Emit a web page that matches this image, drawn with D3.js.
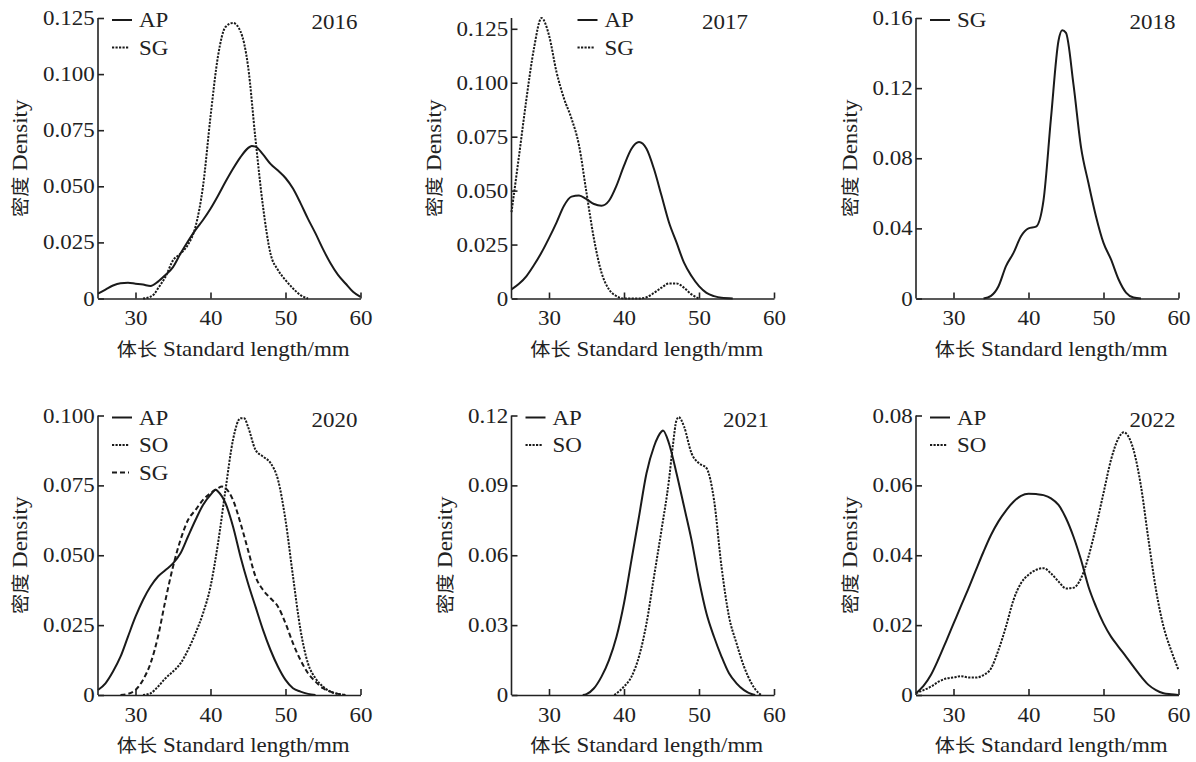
<!DOCTYPE html>
<html lang="en">
<head>
  <meta charset="UTF-8">
  <title>Standard length density 2016-2022</title>
  <style>
    body { margin: 0; background: #fff; }
    svg { display: block; }
    svg text { font-family: "Liberation Serif", "Times New Roman", Times, "DejaVu Serif", "Noto Sans CJK SC", serif !important; fill: #222; }
    .axis path, .axis line { stroke: #222; stroke-width: 1.6px; }
    .curve { fill: none; stroke: #1a1a1a; stroke-width: 2px; }
  </style>
</head>
<body>
  <div id="chart"></div>
  <script src="https://d3js.org/d3.v7.min.js"></script>
  <script>
    // x ticks (mm) shared by every panel
    const xTicks = [30, 40, 50, 60];

    // 2016
    const ap2016 = [[25,0.0022],[26,0.004],[27,0.0058],[28,0.0068],[29,0.007],[30,0.0066],[31,0.0062],[32,0.0056],[33,0.0075],[34,0.0105],[35,0.014],[36,0.02],[37,0.0255],[38,0.0306],[39,0.035],[40,0.040],[41,0.0458],[42,0.052],[43,0.0578],[44,0.063],[45,0.067],[45.5,0.068],[46,0.0677],[47,0.0642],[48,0.060],[49,0.057],[50,0.0537],[51,0.049],[52,0.0425],[53,0.0355],[54,0.029],[55,0.022],[56,0.0157],[57,0.0105],[58,0.0067],[59,0.003],[60,0.0007]];
    const sg2016 = [[31,0],[32,0.0008],[32.5,0.002],[33,0.0045],[34,0.0097],[35,0.017],[36,0.020],[37,0.024],[38,0.032],[39,0.050],[40,0.081],[41,0.108],[42,0.121],[43,0.1228],[44,0.119],[45,0.1037],[46,0.0709],[47,0.041],[48,0.020],[49,0.0127],[50,0.0082],[51,0.0045],[52,0.0015],[53,0]];

    // 2017
    const ap2017 = [[25,0.0042],[26,0.0068],[27,0.0104],[28,0.0155],[29,0.0213],[30,0.028],[31,0.0352],[32,0.043],[33,0.0472],[34,0.0477],[35,0.046],[36,0.0438],[37,0.043],[38,0.0453],[39,0.0523],[40,0.0616],[41,0.0694],[42,0.0725],[43,0.0694],[44,0.060],[45,0.0477],[46,0.0352],[47,0.026],[48,0.0166],[49,0.0104],[50,0.0057],[51,0.0026],[52,0.0011],[53,0.0003],[54.5,0]];
    const sg2017 = [[25,0.040],[26,0.066],[27,0.0927],[28,0.116],[29,0.130],[30,0.122],[31,0.105],[32,0.0927],[33,0.0834],[34,0.071],[35,0.049],[36,0.0275],[37,0.012],[38,0.0042],[39,0.0011],[40,0],[42,0],[43,0.0006],[44,0.0026],[45,0.005],[46,0.007],[47,0.007],[48,0.005],[49,0.0019],[50,0]];

    // 2018
    const sg2018 = [[34,0],[35,0.0015],[36,0.007],[37,0.0185],[38,0.026],[39,0.0355],[40,0.040],[41,0.041],[42,0.056],[43,0.103],[44,0.147],[44.5,0.153],[45,0.1515],[46,0.122],[47,0.0864],[48,0.0657],[49,0.0468],[50,0.0317],[51,0.0223],[52,0.011],[53,0.0034],[54,0.0006],[55,0]];

    // 2020
    const ap2020 = [[25,0.0018],[26,0.0042],[27,0.0084],[28,0.0137],[29,0.0209],[30,0.028],[31,0.034],[32,0.0388],[33,0.0424],[34,0.0447],[35,0.0471],[36,0.0507],[37,0.0567],[38,0.0626],[39,0.068],[40,0.0716],[40.7,0.0734],[41,0.0728],[42,0.0686],[43,0.0603],[44,0.0495],[45,0.040],[46,0.0316],[47,0.0233],[48,0.0161],[49,0.0101],[50,0.0054],[51,0.0024],[52,0.0012],[53,0.0004],[54,0]];
    const so2020 = [[31,0],[32,0.0006],[33,0.003],[34,0.006],[35,0.0084],[36,0.0113],[37,0.0161],[38,0.0221],[39,0.0292],[40,0.0388],[41,0.0543],[42,0.0734],[43,0.0913],[44,0.099],[44.5,0.099],[45,0.096],[46,0.0877],[47,0.0853],[48,0.083],[49,0.077],[50,0.0626],[51,0.0424],[52,0.0233],[53,0.0113],[54,0.006],[55,0.003],[56,0.0012],[57,0.0004],[58,0]];
    const sg2020 = [[28,0],[29,0.0004],[30,0.0018],[31,0.0054],[32,0.0113],[33,0.0209],[34,0.034],[35,0.0459],[36,0.0555],[37,0.0626],[38,0.0662],[39,0.0698],[40,0.0722],[41,0.074],[41.5,0.0746],[42,0.074],[43,0.0698],[44,0.0615],[45,0.0519],[46,0.0424],[47,0.0376],[48,0.0346],[49,0.0316],[50,0.0257],[51,0.0185],[52,0.0125],[53,0.0078],[54,0.0048],[55,0.0024],[56,0.0012],[57,0.0004],[58,0]];

    // 2021
    const ap2021 = [[34.5,0],[35,0.0004],[36,0.0029],[37,0.0079],[38,0.015],[39,0.025],[40,0.0394],[41,0.058],[42,0.0766],[43,0.0952],[44,0.1067],[45,0.1131],[45.2,0.1136],[46,0.108],[47,0.0952],[48,0.081],[49,0.0666],[50,0.0494],[51,0.035],[52,0.025],[53,0.0165],[54,0.0093],[55,0.005],[56,0.0021],[57,0.0004],[57.5,0]];
    const so2021 = [[38.7,0],[39,0.0007],[40,0.0036],[41,0.0079],[42,0.0165],[43,0.0308],[44,0.0508],[45,0.0709],[46,0.0924],[46.5,0.1067],[47,0.118],[47.3,0.1193],[48,0.1153],[49,0.1038],[50,0.0995],[51,0.0974],[52,0.0838],[53,0.0551],[54,0.0337],[55,0.0222],[56,0.0122],[57,0.005],[58,0.0007],[58.3,0]];

    // 2022
    const ap2022 = [[25,0.0005],[26,0.0026],[27,0.0058],[28,0.0103],[29,0.0153],[30,0.0204],[31,0.0255],[32,0.0305],[33,0.0358],[34,0.041],[35,0.0458],[36,0.0497],[37,0.0528],[38,0.0553],[39,0.057],[40,0.0576],[41,0.0575],[42,0.0572],[43,0.0563],[44,0.0544],[45,0.0506],[46,0.0453],[47,0.0387],[48,0.031],[49,0.0253],[50,0.0205],[51,0.0167],[52,0.0138],[53,0.011],[54,0.0081],[55,0.0053],[56,0.0029],[57,0.0014],[58,0.0005],[59,0.0002],[60,0]];
    const so2022 = [[25,0.0005],[26,0.0014],[27,0.0024],[28,0.0038],[29,0.0047],[30,0.005],[31,0.0054],[32,0.005],[33,0.005],[34,0.0057],[35,0.0076],[36,0.0129],[37,0.0196],[38,0.0272],[39,0.032],[40,0.0344],[41,0.0358],[42,0.0363],[43,0.0348],[44,0.0325],[45,0.0305],[46,0.0307],[47,0.0334],[48,0.0396],[49,0.0482],[50,0.0578],[51,0.0673],[52,0.0735],[52.7,0.0752],[53,0.0749],[54,0.0702],[55,0.0597],[56,0.0444],[57,0.0301],[58,0.0196],[59,0.0129],[60,0.0072]];

    // y ticks per panel
    const yTicks2016 = [0, 0.025, 0.05, 0.075, 0.1, 0.125];
    const yTicks2017 = [0, 0.025, 0.05, 0.075, 0.1, 0.125];
    const yTicks2018 = [0, 0.04, 0.08, 0.12, 0.16];
    const yTicks2020 = [0, 0.025, 0.05, 0.075, 0.1];
    const yTicks2021 = [0, 0.03, 0.06, 0.09, 0.12];
    const yTicks2022 = [0, 0.02, 0.04, 0.06, 0.08];

    const panels = [
      { year: "2016", yMax: 0.125, ticks: yTicks2016, fmt: ".3f", series: [["AP", ap2016, "solid"], ["SG", sg2016, "dot"]] },
      { year: "2017", yMax: 0.13,  ticks: yTicks2017, fmt: ".3f", series: [["AP", ap2017, "solid"], ["SG", sg2017, "dot"]] },
      { year: "2018", yMax: 0.16,  ticks: yTicks2018, fmt: ".2f", series: [["SG", sg2018, "solid"]] },
      { year: "2020", yMax: 0.1,   ticks: yTicks2020, fmt: ".3f", series: [["AP", ap2020, "solid"], ["SO", so2020, "dot"], ["SG", sg2020, "dash"]] },
      { year: "2021", yMax: 0.12,  ticks: yTicks2021, fmt: ".2f", series: [["AP", ap2021, "solid"], ["SO", so2021, "dot"]] },
      { year: "2022", yMax: 0.08,  ticks: yTicks2022, fmt: ".2f", series: [["AP", ap2022, "solid"], ["SO", so2022, "dot"]] }
    ];

    const width = 1196, height = 762;
    const colX = [98, 511.5, 916];
    const rowTop = [18, 415.5];
    const rowBottom = [298.5, 695];
    const plotW = 262.5;
    const legendShift = [0, 52, 0, 0, 0, 0];
    const yearShift = [3, 26, 3, 3, 5, 3];
    const dashes = { solid: null, dot: "2.2,1.3", dash: "5,3" };
    const serif = '"Liberation Serif", "Times New Roman", Times, "DejaVu Serif", "Noto Sans CJK SC", serif';
    const fs = 20.5;      // font size
    const sx = "scale(1.12,1)"; // the print type is slightly wide

    const svg = d3.select("#chart")
      .append("svg")
      .attr("width", width)
      .attr("height", height)
      .attr("font-family", serif);

    svg.append("rect").attr("width", width).attr("height", height).attr("fill", "#fff");

    const line = d3.line().curve(d3.curveMonotoneX);

    // text helper: wide text anchored at (x, y)
    function label(parent, tx, ty, anchor, extra) {
      return parent.append("text")
        .attr("transform", `translate(${tx},${ty}) ${extra || ""} ${sx}`)
        .attr("text-anchor", anchor)
        .attr("font-size", fs);
    }

    panels.forEach((p, i) => {
      const left = colX[i % 3];
      const row = Math.floor(i / 3);
      const top = rowTop[row], bottom = rowBottom[row];

      const x = d3.scaleLinear().domain([25, 60]).range([left, left + plotW]);
      const y = d3.scaleLinear().domain([0, p.yMax]).range([bottom, top]);

      const g = svg.append("g");

      // curves
      line.x(d => x(d[0])).y(d => y(d[1]));
      p.series.forEach(s => {
        g.append("path")
          .attr("class", "curve")
          .attr("d", line(s[1]))
          .attr("stroke-dasharray", dashes[s[2]]);
      });

      // x axis, ticks pointing inward
      const xAxis = g.append("g")
        .attr("class", "axis")
        .attr("transform", `translate(0,${bottom})`)
        .call(d3.axisBottom(x).tickValues(xTicks).tickSize(-6).tickSizeOuter(0).tickPadding(12));
      xAxis.attr("font-family", serif);
      xAxis.selectAll("text").attr("font-size", fs).attr("dy", "0.71em").attr("fill", "#222")
        .attr("transform", sx);

      // y axis, ticks pointing inward
      const yAxis = g.append("g")
        .attr("class", "axis")
        .attr("transform", `translate(${left},0)`)
        .call(d3.axisLeft(y).tickValues(p.ticks).tickSize(-6).tickSizeOuter(0).tickPadding(3)
          .tickFormat(v => v === 0 ? "0" : d3.format(p.fmt)(v)));
      yAxis.attr("font-family", serif);
      yAxis.select(".domain").attr("d", `M0,${bottom}V${top}`);
      yAxis.selectAll("text").attr("font-size", fs).attr("fill", "#222").attr("transform", sx);

      // axis titles
      let minLeft = left;
      yAxis.selectAll("text").each(function () {
        const r = this.getBoundingClientRect();
        if (r.left < minLeft) minLeft = r.left;
      });
      const yt = label(g, minLeft - 23, (top + bottom) / 2, "middle", "rotate(-90)").attr("dy", "0.35em");
      yt.append("tspan").attr("font-size", 18).text("密度");
      yt.append("tspan").text(" Density");

      const xt = label(g, left + plotW / 2 + 4, bottom + 57, "middle");
      xt.append("tspan").attr("font-size", 18).text("体长");
      xt.append("tspan").text(" Standard length/mm");

      // year label
      label(g, left + plotW - yearShift[i], top + 11, "end").text(p.year);

      // legend
      const lx = left + 14 + legendShift[i];
      p.series.forEach((s, k) => {
        const ly = top + 2 + k * 27.5;
        g.append("line")
          .attr("x1", lx).attr("x2", lx + (s[2] === "solid" ? 20 : 17))
          .attr("y1", ly).attr("y2", ly)
          .attr("stroke", "#1a1a1a").attr("stroke-width", 2)
          .attr("stroke-dasharray", dashes[s[2]]);
        label(g, lx + 27, ly, "start").attr("dy", "0.35em").text(s[0]);
      });
    });
  </script>
</body>
</html>
